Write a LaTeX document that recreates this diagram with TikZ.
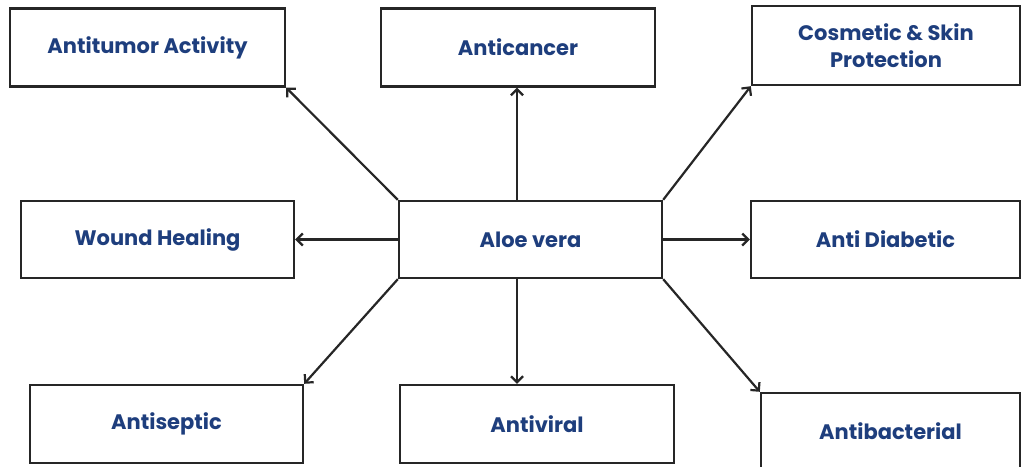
\documentclass[tikz,border=0pt]{standalone}
\usepackage{fontspec}
\newfontfamily\popfont{Poppins}
\usetikzlibrary{arrows.meta}
\definecolor{txtblue}{RGB}{30,62,125}
\begin{document}
\begin{tikzpicture}[x=1pt,y=1pt,
  boxnode/.style={draw=black!85, line width=2.4pt, inner sep=0pt, align=center,
    font=\popfont\bfseries\fontsize{21}{27}\selectfont, text=txtblue,
    minimum height=78pt},
  conn/.style={line width=2.2pt, draw=black!85, -{Straight Barb[length=6pt,width=12pt]}}]
\useasboundingbox (0,0) rectangle (1023,-466);
\fill[white] (0,0) rectangle (1023,-466);
\node[boxnode, minimum width=275pt] (tumor) at (147.5,-47.5) {Antitumor Activity};
\node[boxnode, minimum width=274pt] (cancer) at (518,-47.5) {Anticancer};
\node[boxnode, minimum width=268pt, minimum height=79pt] (cosm) at (886,-45.5) {Cosmetic \& Skin\\Protection};
\node[boxnode, minimum width=273pt, minimum height=77pt] (wound) at (157.5,-239.5) {Wound Healing};
\node[boxnode, minimum width=263pt, minimum height=77pt] (aloe) at (530.5,-239.5) {Aloe vera};
\node[boxnode, minimum width=269pt, minimum height=77pt] (diab) at (885.5,-239.5) {Anti Diabetic};
\node[boxnode, minimum width=273pt] (septic) at (166.5,-424) {Antiseptic};
\node[boxnode, minimum width=274pt] (viral) at (537,-424) {Antiviral};
\node[boxnode, minimum width=259pt, minimum height=77pt] (bact) at (890.5,-431.5) {Antibacterial};
\coordinate (vx) at (517,0);
\draw[conn] (aloe.north west) -- (tumor.south east);
\draw[conn] (aloe.north -| vx) -- (cancer.south -| vx);
\draw[conn] (aloe.north east) -- (cosm.south west);
\draw[conn] (aloe.west) -- (wound.east);
\draw[conn] (aloe.east) -- (diab.west);
\draw[conn] (aloe.south west) -- (septic.north east);
\draw[conn] (aloe.south -| vx) -- (viral.north -| vx);
\draw[conn] (aloe.south east) -- (bact.north west);
\end{tikzpicture}
\end{document}
